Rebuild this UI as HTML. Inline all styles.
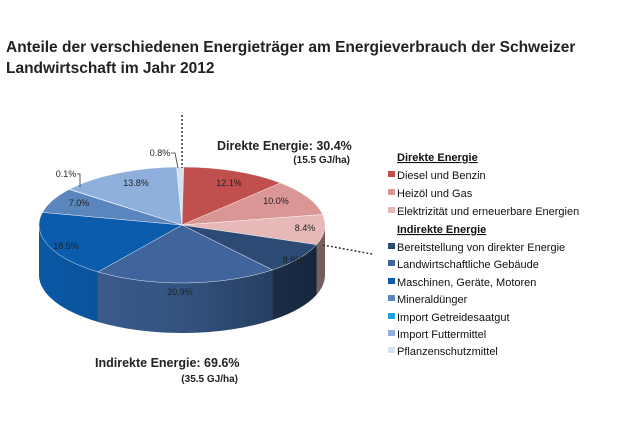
<!DOCTYPE html>
<html><head><meta charset="utf-8"><style>
body{margin:0;background:#fff;width:620px;height:420px;overflow:hidden;font-family:"Liberation Sans",sans-serif}
</style></head><body>
<svg id="s" width="620" height="420" xmlns="http://www.w3.org/2000/svg" font-family="Liberation Sans, sans-serif">
<defs>
<linearGradient id="sh" x1="0" x2="1" y1="0" y2="0">
<stop offset="0" stop-color="#000" stop-opacity="0.05"/>
<stop offset="0.5" stop-color="#000" stop-opacity="0.18"/>
<stop offset="1" stop-color="#000" stop-opacity="0.5"/>
</linearGradient>
</defs>
<text x="6" y="52" font-size="15.5" font-weight="bold" fill="#222">Anteile der verschiedenen Energieträger am Energieverbrauch der Schweizer</text>
<text x="6" y="73" font-size="15.5" font-weight="bold" fill="#222">Landwirtschaft im Jahr 2012</text>
<g id="pie"></g>
<g font-size="9" fill="#222">
<text x="229" y="186" text-anchor="middle">12.1%</text>
<text x="276" y="204" text-anchor="middle">10.0%</text>
<text x="305" y="231" text-anchor="middle">8.4%</text>
<text x="293" y="263" text-anchor="middle">8.6%</text>
<text x="180" y="295" text-anchor="middle">20.9%</text>
<text x="66" y="249" text-anchor="middle">18.5%</text>
<text x="79" y="206" text-anchor="middle">7.0%</text>
<text x="136" y="186" text-anchor="middle">13.8%</text>
<text x="66" y="177" text-anchor="middle">0.1%</text>
<text x="160" y="156" text-anchor="middle">0.8%</text>
</g>
<g stroke="#333" fill="none" stroke-width="0.8">
<path d="M77,174 H80 V187"/>
<path d="M171,153 H175 L178,168"/>
</g>
<g stroke="#333" stroke-width="1.5" stroke-dasharray="2,2" fill="none">
<line x1="182" y1="115" x2="182" y2="168"/>
<line x1="323" y1="245" x2="372" y2="254"/>
</g>
<text x="217" y="150" font-size="12.5" font-weight="bold" fill="#222">Direkte Energie: 30.4%</text>
<text x="350" y="163" font-size="10" font-weight="bold" fill="#222" text-anchor="end">(15.5 GJ/ha)</text>
<text x="95" y="367" font-size="12.5" font-weight="bold" fill="#222">Indirekte Energie: 69.6%</text>
<text x="238" y="382" font-size="10" font-weight="bold" fill="#222" text-anchor="end">(35.5 GJ/ha)</text>
<g font-size="11" fill="#111">
<text x="397" y="161" font-weight="bold" text-decoration="underline">Direkte Energie</text>
<text x="397" y="179">Diesel und Benzin</text>
<text x="397" y="197">Heizöl und Gas</text>
<text x="397" y="215">Elektrizität und erneuerbare Energien</text>
<text x="397" y="233" font-weight="bold" text-decoration="underline">Indirekte Energie</text>
<text x="397" y="251">Bereitstellung von direkter Energie</text>
<text x="397" y="268">Landwirtschaftliche Gebäude</text>
<text x="397" y="286">Maschinen, Geräte, Motoren</text>
<text x="397" y="303">Mineraldünger</text>
<text x="397" y="321">Import Getreidesaatgut</text>
<text x="397" y="338">Import Futtermittel</text>
<text x="397" y="355">Pflanzenschutzmittel</text>
</g>
<g>
<rect x="388" y="171" width="7" height="6" fill="#c0504d"/>
<rect x="388" y="189" width="7" height="6" fill="#d99694"/>
<rect x="388" y="207" width="7" height="6" fill="#e6b9b8"/>
<rect x="388" y="243" width="7" height="6" fill="#2b4a74"/>
<rect x="388" y="260" width="7" height="6" fill="#3f659c"/>
<rect x="388" y="278" width="7" height="6" fill="#0b5cad"/>
<rect x="388" y="295" width="7" height="6" fill="#5b85bd"/>
<rect x="388" y="313" width="7" height="6" fill="#1fa0e0"/>
<rect x="388" y="330" width="7" height="6" fill="#8fb0dc"/>
<rect x="388" y="347" width="7" height="6" fill="#d6e0ee"/>
</g>
</svg>
<script>
var cx=182,cy=225,rx=143,ry=58,d=50;
var data=[[12.1,"#c0504d"],[10.0,"#d99694"],[8.4,"#e6b9b8"],[8.6,"#2b4a74"],[20.9,"#3f659c"],[18.5,"#0b5cad"],[7.0,"#5b85bd"],[0.1,"#1fa0e0"],[13.8,"#8fb0dc"],[0.8,"#d6e0ee"]];
function P(t,dy){var a=t*Math.PI/180;return [(cx+rx*Math.sin(a)).toFixed(2),(cy+dy-ry*Math.cos(a)).toFixed(2)];}
var g=document.getElementById("pie"),s="",tops="",t=0;
data.forEach(function(e){
 var t1=t,t2=t+e[0]*3.6;t=t2;
 var a=Math.max(t1,90),b=Math.min(t2,270);
 if(b>a){
  var p1=P(a,0),p2=P(b,0),p3=P(b,d),p4=P(a,d);
  s+='<path d="M'+p1+" A"+rx+","+ry+" 0 0 1 "+p2+" L"+p3+" A"+rx+","+ry+" 0 0 0 "+p4+' Z" fill="'+e[1]+'"/>';
 }
 var q1=P(t1,0),q2=P(t2,0),lg=(t2-t1)>180?1:0;
 tops+='<path d="M'+cx+','+cy+' L'+q1+' A'+rx+','+ry+' 0 '+lg+' 1 '+q2+' Z" fill="'+e[1]+'" stroke="#fff" stroke-width="0.4"/>';
});
var L=P(270,0),R=P(90,0),R2=P(90,d),L2=P(270,d);
s+='<path d="M'+L+' A'+rx+','+ry+' 0 0 0 '+R+' L'+R2+' A'+rx+','+ry+' 0 0 1 '+L2+' Z" fill="url(#sh)"/>';
g.innerHTML=s+tops;
</script>
</body></html>
